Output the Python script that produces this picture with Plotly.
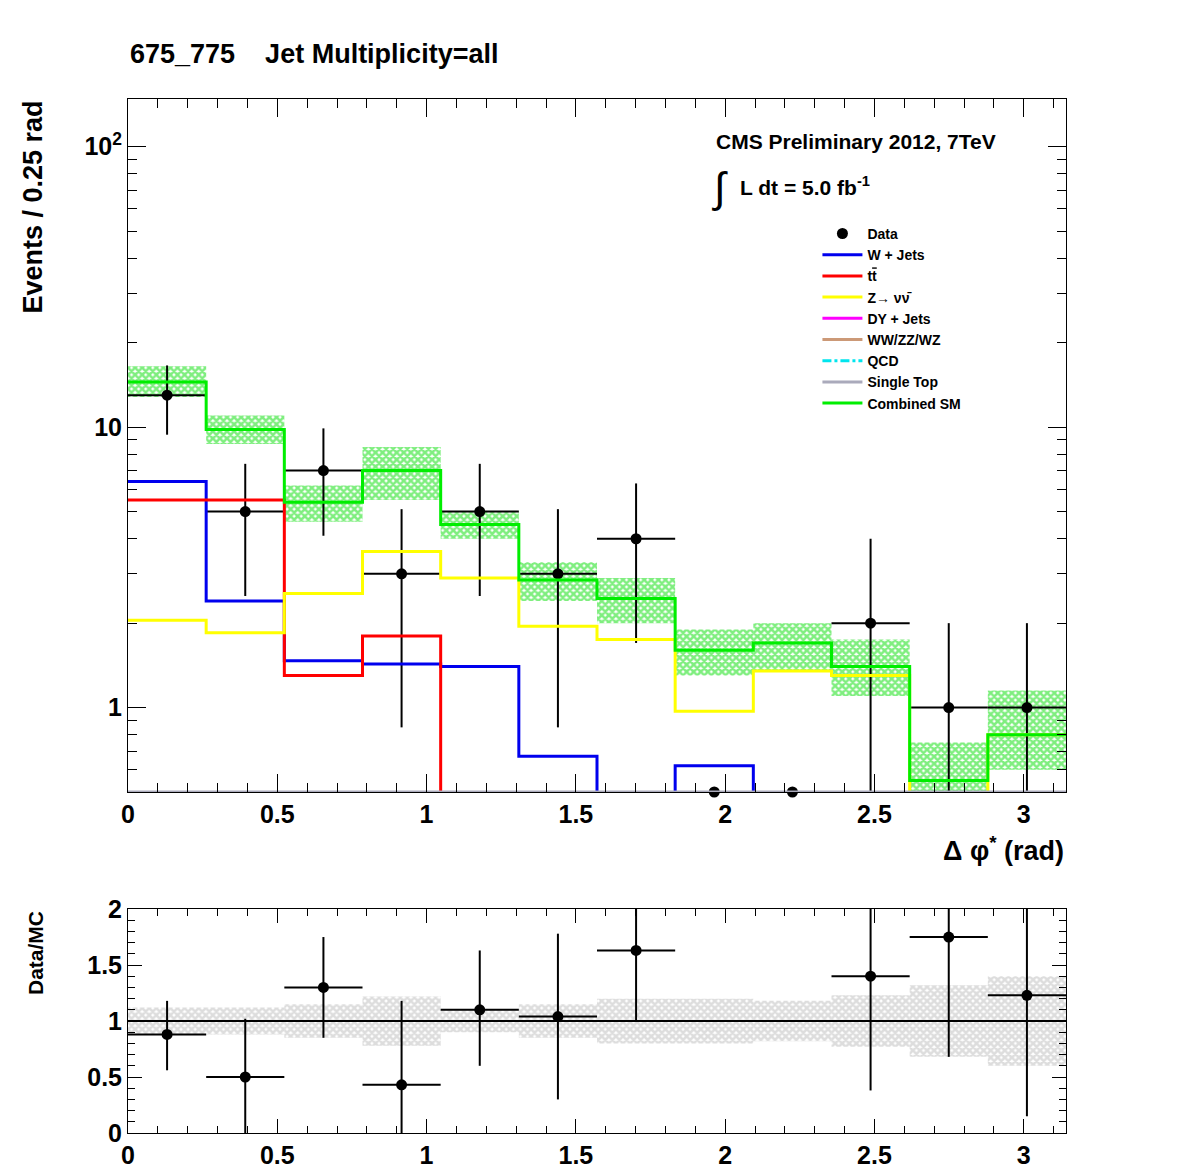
import numpy as np
import plotly.graph_objects as go

W = np.pi/12
edges = [i*W for i in range(13)]
centers = [(i+0.5)*W for i in range(12)]

data = [13, 5, 7, 3, 5, 3, 4, 0, 0, 2, 1, 1]
data_lo = [9.4, 2.5, 4.1, 0.85, 2.5, 0.85, 1.7, 0, 0, 0.3, 0.3, 0.3]
data_hi = [16.6, 7.4, 9.9, 5.1, 7.4, 5.1, 6.3, 0, 0, 4.0, 2.0, 2.0]
wjets = [6.4, 2.4, 1.47, 1.43, 1.4, 0.67, 0.3, 0.62, 0.3, 0.3, 0.3, 0.3]
ttbar = [5.5, 5.5, 1.3, 1.8, 0.01, 0.01, 0.01, 0.01, 0.01, 0.01, 0.01, 0.01]
zinv = [2.05, 1.85, 2.55, 3.6, 2.9, 1.95, 1.75, 0.97, 1.35, 1.3, 0.4, 0.8]
combined = [14.5, 9.8, 5.4, 7.0, 4.5, 2.85, 2.45, 1.6, 1.7, 1.4, 0.55, 0.8]
band_hi = [16.5, 11.0, 6.2, 8.5, 5.0, 3.3, 2.9, 1.9, 2.0, 1.75, 0.75, 1.15]
band_lo = [12.8, 8.7, 4.6, 5.5, 4.0, 2.4, 2.0, 1.3, 1.35, 1.1, 0.45, 0.6]
single_top = [0.01]*12

ratio = [0.88, 0.5, 1.3, 0.43, 1.1, 1.04, 1.63, None, None, 1.4, 1.75, 1.23]
ratio_lo = [0.56, 0.0, 0.85, 0.0, 0.6, 0.3, 1.0, None, None, 0.38, 0.68, 0.15]
ratio_hi = [1.18, 1.02, 1.75, 1.18, 1.63, 1.78, 2.3, None, None, 2.5, 2.8, 2.6]
ratio_band = [0.12, 0.12, 0.15, 0.22, 0.1, 0.15, 0.2, 0.2, 0.18, 0.23, 0.32, 0.4]

xticks = [0, 0.5, 1, 1.5, 2, 2.5, 3]
xticklabels = ["0", "0.5", "1", "1.5", "2", "2.5", "3"]

FONT = "Liberation Sans"
fig = go.Figure()

def step(vals, color, name, dash="solid", show=True):
    fig.add_trace(go.Scatter(x=edges, y=list(vals)+[vals[-1]], mode="lines",
                             line=dict(color=color, width=3, shape="hv", dash=dash),
                             name="<b>" + name + "</b>", showlegend=show, xaxis="x", yaxis="y"))

fig.add_trace(go.Bar(x=centers, y=[h-l for h, l in zip(band_hi, band_lo)], base=band_lo,
                     width=W, marker=dict(color="rgba(0,0,0,0)", line=dict(width=0),
                     pattern=dict(shape="x", fgcolor="#00dd00", size=5, solidity=0.75)),
                     showlegend=False, xaxis="x", yaxis="y"))

yd = [d if d > 0 else 0.5 for d in data]
fig.add_trace(go.Scatter(x=centers, y=yd, mode="markers", name="<b>Data</b>",
    marker=dict(color="black", size=11),
    error_x=dict(type="data", array=[W/2 if d > 0 else 0 for d in data], color="black", thickness=2, width=0),
    error_y=dict(type="data", symmetric=False,
                 array=[h-d if d > 0 else 0 for h, d in zip(data_hi, data)],
                 arrayminus=[d-l if d > 0 else 0 for l, d in zip(data_lo, data)],
                 color="black", thickness=2, width=0),
    cliponaxis=False, xaxis="x", yaxis="y"))

step(wjets, "#0000ee", "W + Jets")
step(ttbar, "#ff0000", "t<span style='text-decoration:overline'>t</span>")
step(zinv, "#ffff00", "Z→ νν̄")
step(single_top, "#ff00ff", "DY + Jets")
step(single_top, "#cc9977", "WW/ZZ/WZ")
step(single_top, "#00e5ee", "QCD", dash="dashdot")
fig.add_trace(go.Scatter(x=[0, np.pi], y=[0.5, 0.5], mode="lines", line=dict(color="#aaaabb", width=3),
                         name="<b>Single Top</b>", xaxis="x", yaxis="y"))
step(combined, "#00ee00", "Combined SM")

fig.add_trace(go.Bar(x=centers, y=[2*b for b in ratio_band], base=[1-b for b in ratio_band],
                     width=W, marker=dict(color="rgba(0,0,0,0)", line=dict(width=0),
                     pattern=dict(shape="x", fgcolor="#bbbbbb", size=5, solidity=0.75)),
                     showlegend=False, xaxis="x2", yaxis="y2"))
fig.add_trace(go.Scatter(x=[0, np.pi], y=[1, 1], mode="lines", line=dict(color="black", width=2),
                         showlegend=False, xaxis="x2", yaxis="y2"))
rc = [c for c, r in zip(centers, ratio) if r is not None]
rr = [r for r in ratio if r is not None]
rl = [r-l for r, l in zip(ratio, ratio_lo) if r is not None]
rh = [h-r for r, h in zip(ratio, ratio_hi) if r is not None]
fig.add_trace(go.Scatter(x=rc, y=rr, mode="markers", marker=dict(color="black", size=11),
    error_x=dict(type="constant", value=W/2, color="black", thickness=2, width=0),
    error_y=dict(type="data", symmetric=False, array=rh, arrayminus=rl, color="black", thickness=2, width=0),
    showlegend=False, xaxis="x2", yaxis="y2"))

axcommon = dict(showline=True, linecolor="black", linewidth=1, mirror="ticks", ticks="inside",
                tickcolor="black", showgrid=False, zeroline=False,
                tickfont=dict(family=FONT, size=25, color="black"))
B = lambda l: ["<b>" + s + "</b>" for s in l]
fig.update_layout(
    width=1196, height=1172, margin=dict(l=120, r=138, t=91, b=47),
    paper_bgcolor="white", plot_bgcolor="white", barmode="overlay",
    xaxis=dict(range=[0, np.pi], domain=[0, 1], anchor="y",
               tickvals=xticks, ticktext=B(xticklabels),
               ticklen=18, minor=dict(ticks="inside", dtick=0.1, ticklen=9, tickcolor="black"), **axcommon),
    yaxis=dict(type="log", range=[np.log10(0.5), np.log10(148)], domain=[0.3298, 1], anchor="x",
               tickvals=[1, 10, 100], ticktext=B(["1", "10", "10<sup>2</sup>"]), ticklen=18,
               minor=dict(ticks="inside", dtick="D1", ticklen=9, tickcolor="black"), **axcommon),
    xaxis2=dict(range=[0, np.pi], domain=[0, 1], anchor="y2",
                tickvals=xticks, ticktext=B(xticklabels),
                ticklen=14, minor=dict(ticks="inside", dtick=0.1, ticklen=7, tickcolor="black"), **axcommon),
    yaxis2=dict(range=[0, 2], domain=[0, 0.2166], anchor="x2", tickvals=[0, 0.5, 1, 1.5, 2],
                ticktext=B(["0", "0.5", "1", "1.5", "2"]), ticklen=14,
                minor=dict(ticks="inside", dtick=0.1, ticklen=7, tickcolor="black"), **axcommon),
    legend=dict(x=0.735, y=0.885, xanchor="left", yanchor="top", bgcolor="rgba(0,0,0,0)",
                font=dict(family=FONT, size=14, color="black"), tracegroupgap=0, itemwidth=40),
    font=dict(family=FONT, color="black"),
)

def px_ann(text, x, y, size, xanchor="left", yanchor="middle", angle=0):
    fig.add_annotation(text=text, x=(x-128)/938, y=(1132-y)/1034, xref="paper", yref="paper",
                       xanchor=xanchor, yanchor=yanchor, showarrow=False, textangle=angle,
                       font=dict(size=size, family=FONT, color="black"))
px_ann("<b>675_775    Jet Multiplicity=all</b>", 128, 53, 27)
px_ann("<b>CMS Preliminary 2012, 7TeV</b>", 714, 140, 21)
px_ann("∫", 710, 186, 42)
px_ann("<b>L dt = 5.0 fb<sup>-1</sup></b>", 738, 185, 21)
px_ann("<b>Events / 0.25 rad</b>", 32, 98, 27, xanchor="center", yanchor="top", angle=-90)
px_ann("<b>Δ φ<sup>*</sup> (rad)</b>", 1066, 848, 27, xanchor="right")
px_ann("<b>Data/MC</b>", 35, 908, 21, xanchor="center", yanchor="top", angle=-90)
fig.write_html("out.html")
